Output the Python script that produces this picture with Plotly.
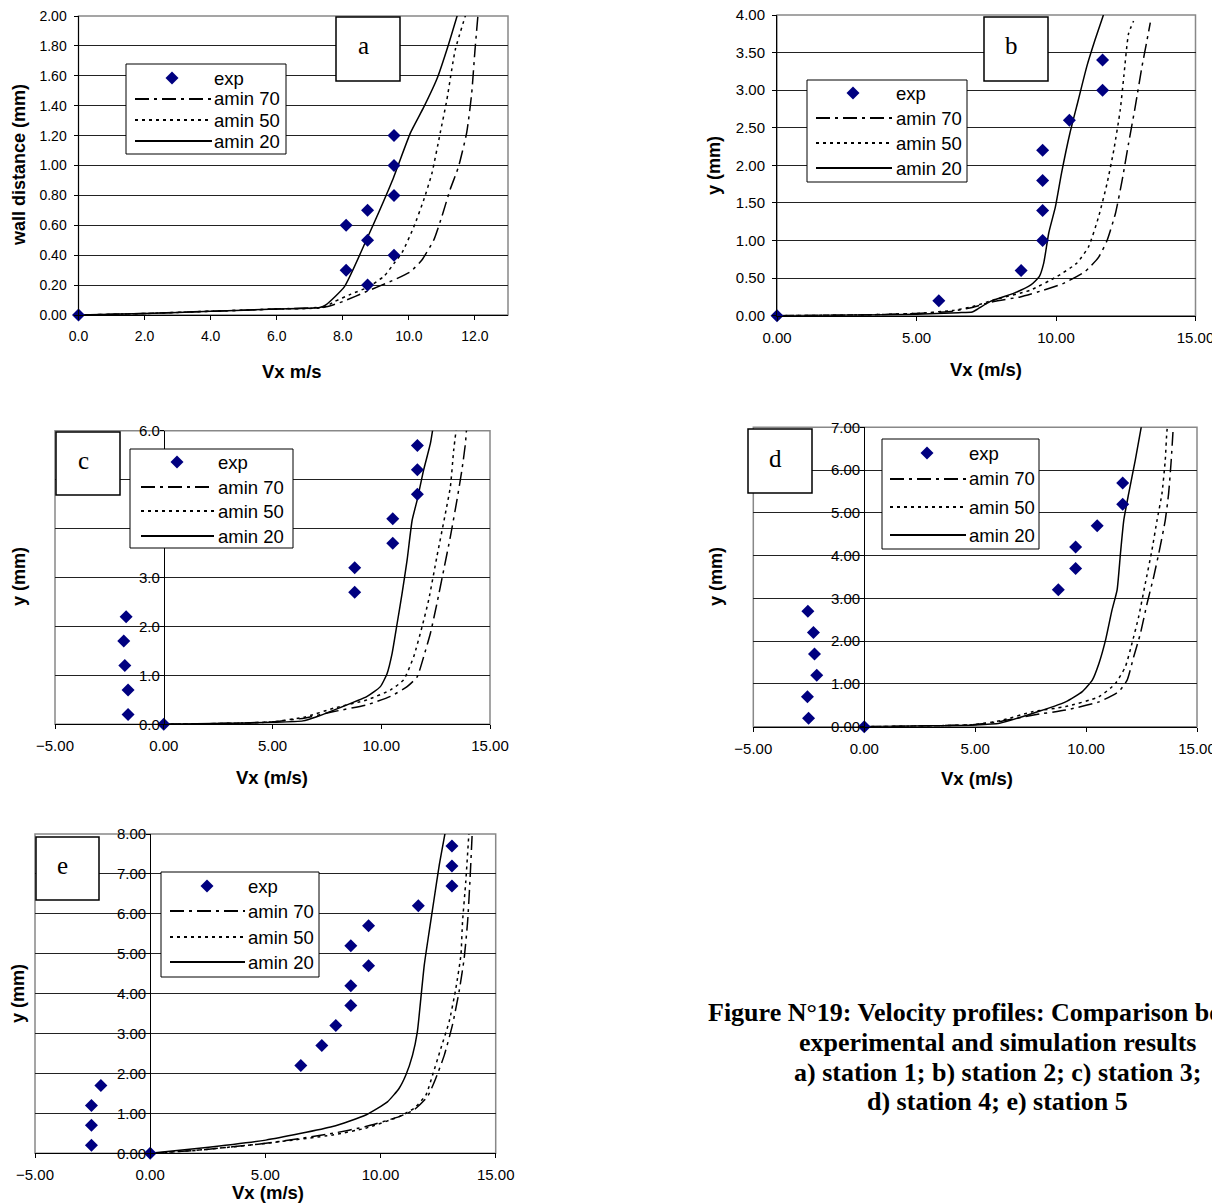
import plotly.graph_objects as go

# page offset of the figure inside the browser page (default body margin)
OFF = 8
W, H = 1220 - OFF, 1203 - OFF

# ---------------- data ----------------
# station 1 (a)
a_exp_x = [0, 8.1, 8.75, 9.55, 8.75, 8.1, 8.75, 9.55, 9.55, 9.55]
a_exp_y = [0, 0.3, 0.2, 0.4, 0.5, 0.6, 0.7, 0.8, 1.0, 1.2]
a70_x = [0, 2, 4, 6, 7.5, 8.0, 8.75, 9.5, 10.05, 10.4, 10.75, 11.0, 11.25, 11.5, 11.75, 11.9, 12.0, 12.1]
a70_y = [0, 0.01, 0.025, 0.04, 0.055, 0.09, 0.16, 0.23, 0.29, 0.37, 0.5, 0.66, 0.84, 0.99, 1.22, 1.48, 1.77, 2.03]
a50_x = [0, 2, 4, 6, 7.4, 7.75, 8.25, 8.75, 9.25, 9.55, 9.8, 10.15, 10.45, 10.7, 10.95, 11.15, 11.4, 11.75]
a50_y = [0, 0.01, 0.025, 0.04, 0.05, 0.09, 0.14, 0.185, 0.26, 0.345, 0.42, 0.59, 0.77, 0.95, 1.22, 1.44, 1.77, 2.03]
a20_x = [0, 2, 4, 6, 7.3, 7.5, 8.05, 8.75, 9.5, 10.05, 10.45, 10.85, 11.2, 11.5]
a20_y = [0, 0.01, 0.025, 0.04, 0.05, 0.07, 0.19, 0.52, 0.9, 1.22, 1.39, 1.58, 1.81, 2.03]

# station 2 (b)
b_exp_x = [0, 5.8, 8.75, 9.52, 9.52, 9.52, 9.52, 10.48, 11.67, 11.67]
b_exp_y = [0, 0.2, 0.6, 1.0, 1.4, 1.8, 2.2, 2.6, 3.0, 3.4]
b70_x = [0, 3, 5, 6.3, 7.0, 7.77, 8.72, 9.56, 10.27, 11.05, 11.53, 11.83, 12.13, 12.37, 12.6, 12.84, 13.08, 13.26, 13.38]
b70_y = [0, 0.01, 0.03, 0.06, 0.11, 0.19, 0.25, 0.34, 0.43, 0.59, 0.78, 1.0, 1.36, 1.8, 2.29, 2.78, 3.31, 3.66, 3.9]
b50_x = [0, 3, 5, 6.3, 7.0, 7.77, 9.08, 10.03, 10.75, 11.17, 11.53, 11.83, 12.07, 12.3, 12.43, 12.6, 12.78]
b50_y = [0, 0.01, 0.03, 0.07, 0.12, 0.21, 0.34, 0.52, 0.7, 0.92, 1.32, 1.76, 2.2, 2.73, 3.18, 3.75, 3.92]
b20_x = [0, 3, 5, 6.5, 7.0, 7.2, 7.65, 8.5, 9.1, 9.4, 9.56, 9.74, 9.98, 10.2, 10.5, 10.8, 11.1, 11.4, 11.7]
b20_y = [0, 0.01, 0.02, 0.04, 0.05, 0.09, 0.19, 0.3, 0.41, 0.52, 0.7, 1.1, 1.45, 1.9, 2.43, 2.87, 3.31, 3.67, 4.0]

# station 3 (c)
c_exp_x = [0, -1.64, -1.64, -1.79, -1.84, -1.73, 8.78, 8.78, 10.53, 10.53, 11.66, 11.66, 11.66]
c_exp_y = [0, 0.2, 0.7, 1.2, 1.7, 2.2, 2.7, 3.2, 3.7, 4.2, 4.7, 5.2, 5.7]
c70_x = [0, 3, 5, 6.5, 7.82, 9.35, 10.42, 11.19, 11.65, 11.95, 12.26, 12.56, 12.87, 13.18, 13.48, 13.71, 13.87, 13.94]
c70_y = [0, 0.02, 0.05, 0.13, 0.26, 0.4, 0.57, 0.77, 0.97, 1.38, 1.86, 2.47, 3.15, 3.84, 4.58, 5.2, 5.74, 6.15]
c50_x = [0, 3, 5, 6.5, 7.82, 9.35, 10.42, 11.03, 11.49, 11.88, 12.18, 12.56, 12.95, 13.18, 13.33, 13.48]
c50_y = [0, 0.02, 0.05, 0.15, 0.33, 0.5, 0.7, 0.91, 1.38, 2.0, 2.54, 3.43, 4.31, 4.86, 5.6, 6.15]
c20_x = [0, 3, 5, 6.4, 7.0, 7.82, 9.35, 9.96, 10.27, 10.5, 10.73, 10.96, 11.19, 11.42, 11.65, 11.95, 12.26, 12.41]
c20_y = [0, 0.02, 0.04, 0.07, 0.15, 0.29, 0.57, 0.77, 1.04, 1.45, 2.06, 2.68, 3.36, 4.17, 4.58, 5.2, 5.74, 6.15]

# station 4 (d)
d_exp_x = [0, -2.51, -2.56, -2.14, -2.24, -2.29, -2.54, 8.75, 9.53, 9.53, 10.5, 11.65, 11.65]
d_exp_y = [0, 0.2, 0.7, 1.2, 1.7, 2.2, 2.7, 3.2, 3.7, 4.2, 4.7, 5.2, 5.7]
d70_x = [0, 3, 5, 6.2, 7.58, 9.08, 10.58, 11.47, 11.85, 12.15, 12.45, 12.75, 13.05, 13.34, 13.57, 13.72, 13.84, 13.94]
d70_y = [0, 0.02, 0.05, 0.13, 0.27, 0.39, 0.58, 0.82, 1.09, 1.64, 2.18, 2.88, 3.51, 4.21, 4.83, 5.45, 6.24, 7.1]
d50_x = [0, 3, 5, 6.2, 7.58, 9.08, 10.58, 11.32, 11.77, 12.07, 12.37, 12.67, 12.97, 13.2, 13.42, 13.57, 13.65, 13.72]
d50_y = [0, 0.02, 0.05, 0.15, 0.35, 0.47, 0.7, 1.01, 1.4, 1.95, 2.57, 3.35, 4.13, 4.83, 5.45, 6.24, 6.94, 7.1]
d20_x = [0, 3, 5, 6.1, 7.58, 9.08, 9.83, 10.28, 10.58, 10.88, 11.17, 11.4, 11.55, 11.7, 11.92, 12.22, 12.52]
d20_y = [0, 0.02, 0.04, 0.08, 0.31, 0.58, 0.82, 1.09, 1.48, 2.03, 2.73, 3.2, 4.05, 4.83, 5.45, 6.24, 7.1]

# station 5 (e)
e_exp_x = [0, -2.55, -2.55, -2.55, -2.14, 6.54, 7.45, 8.06, 8.71, 8.71, 9.48, 8.71, 9.48, 11.64, 13.1, 13.1, 13.1]
e_exp_y = [0, 0.2, 0.7, 1.2, 1.7, 2.2, 2.7, 3.2, 3.7, 4.2, 4.7, 5.2, 5.7, 6.2, 6.7, 7.2, 7.7]
e70_x = [0, 2.13, 5.02, 7.92, 9.36, 10.81, 11.46, 12.04, 12.4, 12.77, 13.12, 13.41, 13.63, 13.78, 13.88, 13.99]
e70_y = [0, 0.08, 0.25, 0.5, 0.67, 0.92, 1.09, 1.42, 1.88, 2.46, 3.21, 4.05, 4.88, 5.8, 6.8, 8.14]
e50_x = [0, 2.13, 5.02, 7.92, 9.36, 10.81, 11.46, 11.97, 12.26, 12.62, 12.98, 13.27, 13.49, 13.56, 13.7, 13.85]
e50_y = [0, 0.08, 0.25, 0.46, 0.63, 0.92, 1.13, 1.46, 1.96, 2.63, 3.3, 4.13, 4.97, 5.8, 6.8, 8.14]
e20_x = [0, 2.13, 5.02, 7.92, 9.36, 10.3, 10.81, 11.1, 11.39, 11.6, 11.75, 11.9, 12.11, 12.33, 12.55, 12.84]
e20_y = [0, 0.125, 0.33, 0.67, 0.96, 1.29, 1.63, 1.96, 2.46, 3.05, 3.88, 4.72, 5.55, 6.39, 7.22, 8.14]

legend_labels = ["exp", "amin 70", "amin 50", "amin 20"]
panel_letters = ["a", "b", "c", "d", "e"]
x_titles = ["Vx m/s", "Vx (m/s)", "Vx (m/s)", "Vx (m/s)", "Vx (m/s)"]
y_titles = ["wall distance (mm)", "y (mm)", "y (mm)", "y (mm)", "y (mm)"]
caption_lines = [
    "Figure N°19: Velocity profiles: Comparison between",
    "experimental and simulation results",
    "a) station 1; b) station 2; c) station 3;",
    "d) station 4; e) station 5",
]

# ---------------- styling ----------------
DASH70 = "14px,5px,3px,5px"
DASH50 = "3px,4px"
NAVY = "#000080"
SANS = "Liberation Sans, Arial, sans-serif"
SERIF = "Liberation Serif, Times New Roman, serif"


def px(x):
    return (x - OFF) / W


def py(y):
    return 1 - (y - OFF) / H


# plot-area geometry in page pixels: (left, right, top, bottom)
geo = [
    (78.5, 508, 16, 315),
    (777, 1195.5, 15, 315.7),
    (55, 490, 430.7, 724.3),
    (753.3, 1197, 427.3, 726.7),
    (35, 495.7, 834, 1153.3),
]
xranges = [[0, 13], [0, 15], [-5, 15], [-5, 15], [-5, 15]]
yranges = [[0, 2], [0, 4], [0, 6], [0, 7], [0, 8]]
xdticks = [2, 5, 5, 5, 5]
ydticks = [0.2, 0.5, 1, 1, 1]
xfmts = [".1f", ".2f", ".2f", ".2f", ".2f"]
yfmts = [".2f", ".2f", ".1f", ".2f", ".2f"]
tick_sizes = [14, 15, 15, 15, 15]

data = [
    (a_exp_x, a_exp_y, a70_x, a70_y, a50_x, a50_y, a20_x, a20_y),
    (b_exp_x, b_exp_y, b70_x, b70_y, b50_x, b50_y, b20_x, b20_y),
    (c_exp_x, c_exp_y, c70_x, c70_y, c50_x, c50_y, c20_x, c20_y),
    (d_exp_x, d_exp_y, d70_x, d70_y, d50_x, d50_y, d20_x, d20_y),
    (e_exp_x, e_exp_y, e70_x, e70_y, e50_x, e50_y, e20_x, e20_y),
]

# legend boxes (left, right, top, bottom), marker x, text x, row ys, line x0,x1
legends = [
    (126, 286, 64, 154, 172, 213, [78, 99, 120, 141], 135, 212),
    (807, 967, 80, 182, 853, 895, [93, 118, 143, 168], 816, 892),
    (130, 293, 449, 548, 177, 217, [462, 487, 511, 536], 141, 214),
    (882, 1039, 439, 549, 927, 968, [453, 479, 507, 535], 890, 966),
    (161, 319, 872, 977, 207, 247, [886, 911, 937, 962], 170, 245),
]
# letter boxes (left, right, top, bottom)
letter_boxes = [
    (336, 400, 17, 81),
    (984, 1048, 17, 81),
    (56, 120, 432, 495),
    (748, 812, 429, 493),
    (36, 99, 837, 900),
]
# axis title positions: x title (cx, cy), y title (cx, cy)
xt_pos = [(292, 371), (986, 370), (272, 777), (977, 778), (268, 1192)]
yt_pos = [(19, 165), (714, 166), (19, 577), (716, 577), (18, 994)]

fig = go.Figure()
shapes = []
annotations = []
layout_axes = {}

for i in range(5):
    n = "" if i == 0 else str(i + 1)
    xa, ya = "x" + n, "y" + n
    ex, ey, x70, y70, x50, y50, x20, y20 = data[i]
    L, R, T, B = geo[i]

    fig.add_trace(go.Scatter(x=x70, y=y70, mode="lines", xaxis=xa, yaxis=ya, showlegend=False,
                             line=dict(color="black", width=1.5, dash=DASH70, shape="spline", smoothing=0.5)))
    fig.add_trace(go.Scatter(x=x50, y=y50, mode="lines", xaxis=xa, yaxis=ya, showlegend=False,
                             line=dict(color="black", width=1.5, dash=DASH50, shape="spline", smoothing=0.5)))
    fig.add_trace(go.Scatter(x=x20, y=y20, mode="lines", xaxis=xa, yaxis=ya, showlegend=False,
                             line=dict(color="black", width=1.5, shape="spline", smoothing=0.5)))
    fig.add_trace(go.Scatter(x=ex, y=ey, mode="markers", xaxis=xa, yaxis=ya, showlegend=False,
                             cliponaxis=False,
                             marker=dict(symbol="diamond", size=10, color=NAVY, line=dict(width=0))))

    xr, yr = xranges[i], yranges[i]
    zero_pos = px(L + (0 - xr[0]) / (xr[1] - xr[0]) * (R - L))
    tf = dict(family=SANS, size=tick_sizes[i], color="black")
    xaxis = dict(domain=[px(L), px(R)], range=xr, anchor=ya, dtick=xdticks[i], tick0=0,
                 tickformat=xfmts[i], showgrid=False, zeroline=False, showline=True, automargin=False,
                 linecolor="black", linewidth=1, ticks="outside", ticklen=4, tickcolor="black",
                 tickfont=tf, ticklabelstandoff=4, ticklabeloverflow="allow")
    yaxis = dict(domain=[py(B), py(T)], range=yr, dtick=ydticks[i], tick0=0, automargin=False,
                 tickformat=yfmts[i], showgrid=True, gridcolor="#222222", gridwidth=1,
                 zeroline=False, showline=True, linecolor="black", linewidth=1,
                 ticks="outside", ticklen=4, tickcolor="black",
                 tickfont=tf, ticklabeloverflow="allow")
    if xr[0] < 0:
        yaxis.update(anchor="free", position=zero_pos, ticklabelstandoff=-3)
    else:
        yaxis.update(anchor=xa, ticklabelstandoff=4)
    layout_axes["xaxis" + n] = xaxis
    layout_axes["yaxis" + n] = yaxis

    # gray plot-area border
    shapes.append(dict(type="rect", xref=xa + " domain", yref=ya + " domain", x0=0, x1=1, y0=0, y1=1,
                       line=dict(color="#888888", width=1.5), layer="below"))

    # legend box
    lL, lR, lT, lB, mx, tx, rows, lx0, lx1 = legends[i]
    shapes.append(dict(type="rect", xref="paper", yref="paper", x0=px(lL), x1=px(lR), y0=py(lB), y1=py(lT),
                       fillcolor="white", line=dict(color="black", width=1), layer="above"))
    shapes.append(dict(type="path", xref="paper", yref="paper", xsizemode="pixel", ysizemode="pixel",
                       xanchor=px(mx), yanchor=py(rows[0]), path="M0,6.5 L6.5,0 L0,-6.5 L-6.5,0 Z",
                       fillcolor=NAVY, line=dict(width=0), layer="above"))
    for k, dash in zip([1, 2, 3], [DASH70, DASH50, "solid"]):
        shapes.append(dict(type="line", xref="paper", yref="paper", x0=px(lx0), x1=px(lx1),
                           y0=py(rows[k]), y1=py(rows[k]),
                           line=dict(color="black", width=2, dash=dash), layer="above"))
    for k, lab in enumerate(legend_labels):
        annotations.append(dict(text=lab, xref="paper", yref="paper", x=px(tx - 1), y=py(rows[k]),
                                xanchor="left", yanchor="middle", showarrow=False,
                                font=dict(family=SANS, size=18.5, color="black")))

    # letter box
    bL, bR, bT, bB = letter_boxes[i]
    shapes.append(dict(type="rect", xref="paper", yref="paper", x0=px(bL), x1=px(bR), y0=py(bB), y1=py(bT),
                       fillcolor="white", line=dict(color="black", width=1.5), layer="above"))
    annotations.append(dict(text=panel_letters[i], xref="paper", yref="paper",
                            x=px((bL + bR) / 2 - 5), y=py((bT + bB) / 2 - 3),
                            xanchor="center", yanchor="middle", showarrow=False,
                            font=dict(family=SERIF, size=25, color="black")))

    # axis titles
    cx, cy = xt_pos[i]
    annotations.append(dict(text="<b>" + x_titles[i] + "</b>", xref="paper", yref="paper", x=px(cx), y=py(cy),
                            xanchor="center", yanchor="middle", showarrow=False,
                            font=dict(family=SANS, size=18.5, color="black")))
    cx, cy = yt_pos[i]
    annotations.append(dict(text="<b>" + y_titles[i] + "</b>", xref="paper", yref="paper", x=px(cx), y=py(cy),
                            xanchor="center", yanchor="middle", showarrow=False, textangle=-90,
                            font=dict(family=SANS, size=18, color="black")))

# caption
for k, (line, cy) in enumerate(zip(caption_lines, [1012, 1042, 1072, 1101])):
    annotations.append(dict(text="<b>" + line + "</b>", xref="paper", yref="paper", x=px(997), y=py(cy),
                            xanchor="center", yanchor="middle", showarrow=False,
                            font=dict(family=SERIF, size=26, color="black")))

fig.update_layout(
    width=W, height=H, margin=dict(l=0, r=0, t=0, b=0, autoexpand=False),
    paper_bgcolor="white", plot_bgcolor="white",
    showlegend=False, shapes=shapes, annotations=annotations,
    **layout_axes,
)

fig.write_html("out.html")
